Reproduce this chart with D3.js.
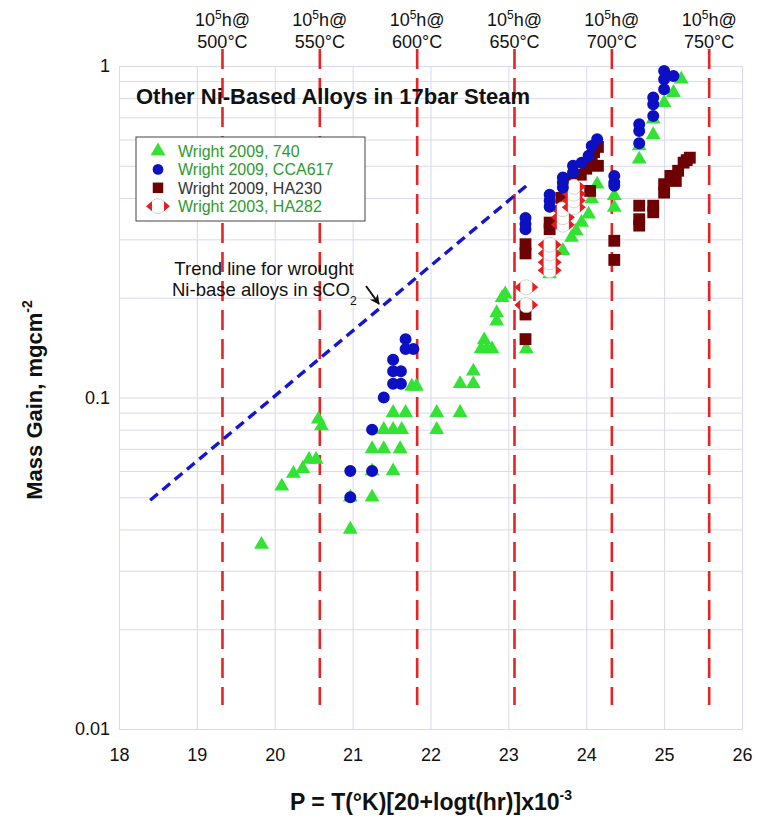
<!DOCTYPE html>
<html>
<head>
<meta charset="utf-8">
<script src="https://cdn.jsdelivr.net/npm/d3@7"></script>
<style>
  body { margin: 0; background: #fff; }
  svg text { font-family: "Liberation Sans", Arial, Helvetica, sans-serif; fill: #111; }
</style>
</head>
<body>
<svg id="chart" width="758" height="822"></svg>
<script>
// Values: [P, mass gain in mg/cm2]
const wright740 = [
  [19.83, 0.036], [20.09, 0.054], [20.24, 0.059], [20.36, 0.061], [20.44, 0.065],
  [20.53, 0.065], [20.56, 0.086], [20.60, 0.082], [20.97, 0.040], [20.97, 0.050],
  [21.25, 0.050], [21.25, 0.060], [21.52, 0.060], [21.25, 0.070], [21.40, 0.070],
  [21.61, 0.070], [21.40, 0.080], [21.52, 0.080], [21.63, 0.080], [21.52, 0.090],
  [21.68, 0.090], [21.76, 0.108], [21.82, 0.108], [22.08, 0.090], [22.08, 0.080],
  [22.38, 0.090], [22.38, 0.110], [22.55, 0.110], [22.55, 0.120], [22.65, 0.140],
  [22.72, 0.140], [22.79, 0.140], [22.69, 0.149], [22.85, 0.170], [22.85, 0.180],
  [22.92, 0.200], [22.96, 0.205], [23.23, 0.140], [23.53, 0.236], [23.70, 0.277],
  [23.81, 0.304], [23.87, 0.318], [23.94, 0.337], [24.03, 0.357], [24.07, 0.397],
  [24.14, 0.440], [24.36, 0.406], [24.36, 0.374], [24.68, 0.523], [24.68, 0.574],
  [24.86, 0.620], [24.86, 0.691], [25.00, 0.775], [25.12, 0.831], [25.22, 0.912]
];
const wrightCCA617 = [
  [20.97, 0.050], [20.97, 0.060], [21.25, 0.060], [21.25, 0.080], [21.40, 0.100],
  [21.52, 0.110], [21.62, 0.110], [21.52, 0.120], [21.62, 0.120], [21.52, 0.130],
  [21.68, 0.140], [21.68, 0.150], [21.78, 0.140], [23.22, 0.322], [23.22, 0.334],
  [23.22, 0.348], [23.53, 0.376], [23.53, 0.392], [23.53, 0.409], [23.70, 0.430],
  [23.70, 0.445], [23.70, 0.461], [23.83, 0.477], [23.83, 0.500], [23.94, 0.511],
  [24.03, 0.536], [24.07, 0.574], [24.14, 0.601], [24.36, 0.435], [24.36, 0.445],
  [24.36, 0.466], [24.68, 0.585], [24.68, 0.637], [24.68, 0.667], [24.86, 0.707],
  [24.86, 0.767], [24.86, 0.803], [25.00, 0.851], [25.00, 0.912], [25.00, 0.966],
  [25.12, 0.933]
];
const wrightHA230 = [
  [23.22, 0.150], [23.22, 0.178], [23.22, 0.272], [23.22, 0.290], [23.53, 0.322],
  [23.53, 0.337], [23.68, 0.400], [23.83, 0.455], [23.93, 0.470], [24.00, 0.490],
  [24.05, 0.420], [24.07, 0.520], [24.10, 0.550], [24.15, 0.570], [24.15, 0.500],
  [24.36, 0.260], [24.36, 0.297], [24.68, 0.330], [24.68, 0.345], [24.68, 0.379],
  [24.86, 0.362], [24.86, 0.379], [25.00, 0.415], [25.00, 0.440], [25.08, 0.466],
  [25.15, 0.450], [25.18, 0.483], [25.25, 0.511], [25.29, 0.520], [25.33, 0.529]
];
const wrightHA282 = [
  [23.23, 0.190], [23.23, 0.215], [23.53, 0.242], [23.53, 0.256], [23.53, 0.272],
  [23.53, 0.289], [23.70, 0.332], [23.70, 0.350], [23.70, 0.370], [23.84, 0.375],
  [23.84, 0.393], [23.84, 0.412], [23.84, 0.432]
];
const trendLine = [[18.4, 0.049], [23.28, 0.445]];
const isoTemps = [500, 550, 600, 650, 700, 750];   // deg C, at 1e5 h
const xTicks = [18, 19, 20, 21, 22, 23, 24, 25, 26];
const yLabelTicks = [0.01, 0.1, 1];
const legendLabels = ["Wright 2009, 740", "Wright 2009, CCA617", "Wright 2009, HA230", "Wright 2003, HA282"];

const svg = d3.select('#chart');
const margin = {top: 66, right: 16, bottom: 93, left: 119};
const width = 758 - margin.left - margin.right;
const height = 822 - margin.top - margin.bottom;

const x = d3.scaleLinear().domain([18, 26]).range([0, width]);
const y = d3.scaleLog().domain([0.01, 1]).range([height, 0]);

const g = svg.append('g')
  .attr('transform', 'translate(' + margin.left + ',' + margin.top + ')');

const gridColor = '#d8d8f0';

// grid
g.append('g')
  .attr('transform', 'translate(0,' + height + ')')
  .call(d3.axisBottom(x).tickValues(xTicks).tickSize(-height).tickFormat(''))
  .call(s => s.selectAll('line, path').attr('stroke', gridColor));
g.append('g')
  .call(d3.axisLeft(y).tickValues(y.ticks()).tickSize(-width).tickFormat(''))
  .call(s => s.selectAll('line, path').attr('stroke', gridColor));

// tick labels
g.append('g')
  .attr('transform', 'translate(0,' + height + ')')
  .call(d3.axisBottom(x).tickValues(xTicks).tickSize(0).tickPadding(19).tickFormat(d3.format('d')))
  .call(s => s.select('.domain').remove())
  .call(s => s.selectAll('text').attr('font-size', 18).attr('fill', '#111'));
g.append('g')
  .call(d3.axisLeft(y).tickValues(yLabelTicks).tickSize(0).tickPadding(9).tickFormat(d => String(d)))
  .call(s => s.select('.domain').remove())
  .call(s => s.selectAll('text').attr('font-size', 18).attr('fill', '#111'));

// isotherm lines: P = T(K) * (20 + log 1e5) / 1000
const isoP = isoTemps.map(t => (t + 273.15) * 25 / 1000);
const iso = g.selectAll('.iso').data(isoTemps).enter().append('g').attr('class', 'iso');
iso.append('line')
  .attr('x1', (d, i) => x(isoP[i])).attr('x2', (d, i) => x(isoP[i]))
  .attr('y1', -17).attr('y2', height - 24)
  .attr('stroke', '#e62424').attr('stroke-width', 2.6)
  .attr('stroke-dasharray', '20,9');
const isoLabel = iso.append('text')
  .attr('text-anchor', 'middle')
  .attr('font-size', 18);
isoLabel.append('tspan')
  .attr('x', (d, i) => x(isoP[i])).attr('y', -40)
  .text('10');
isoLabel.append('tspan')
  .attr('font-size', 12).attr('dy', -7)
  .text('5');
isoLabel.append('tspan')
  .attr('dy', 7)
  .text('h@');
iso.append('text')
  .attr('text-anchor', 'middle').attr('font-size', 18)
  .attr('x', (d, i) => x(isoP[i])).attr('y', -18)
  .text(d => d + '°C');

// trend line
g.append('path')
  .datum(trendLine)
  .attr('d', d3.line().x(d => x(d[0])).y(d => y(d[1])))
  .attr('fill', 'none').attr('stroke', '#1717c9').attr('stroke-width', 3.4)
  .attr('stroke-dasharray', '10,6');

// markers
const triangle = d3.symbol().type(d3.symbolTriangle).size(95);
const circle = d3.symbol().type(d3.symbolCircle).size(113);
const square = d3.symbol().type(d3.symbolSquare).size(140);

function drawHA282(sel) {
  sel.append('circle').attr('r', 7.5).attr('fill', '#fff').attr('stroke', '#c8c8c8').attr('stroke-width', 0.8);
  sel.append('path').attr('d', 'M-6,-5L-12,0L-6,5Z').attr('fill', '#e61e1e');
  sel.append('path').attr('d', 'M6,-5L12,0L6,5Z').attr('fill', '#e61e1e');
}

g.append('g').selectAll('path').data(wright740).enter().append('path')
  .attr('d', triangle).attr('fill', '#33e333')
  .attr('transform', d => 'translate(' + x(d[0]) + ',' + y(d[1]) + ')');
g.append('g').selectAll('path').data(wrightHA230).enter().append('path')
  .attr('d', square).attr('fill', '#6e0202')
  .attr('transform', d => 'translate(' + x(d[0]) + ',' + y(d[1]) + ')');
g.append('g').selectAll('g').data(wrightHA282).enter().append('g')
  .attr('transform', d => 'translate(' + x(d[0]) + ',' + y(d[1]) + ')')
  .call(drawHA282);
g.append('g').selectAll('path').data(wrightCCA617).enter().append('path')
  .attr('d', circle).attr('fill', '#0c10c2')
  .attr('transform', d => 'translate(' + x(d[0]) + ',' + y(d[1]) + ')');

// title
svg.append('text')
  .attr('x', 136).attr('y', 104)
  .attr('font-size', 22).attr('font-weight', 'bold')
  .text('Other Ni-Based Alloys in 17bar Steam');

// legend
const legend = svg.append('g').attr('transform', 'translate(136,137)');
legend.append('rect')
  .attr('width', 229).attr('height', 84)
  .attr('fill', '#fff').attr('stroke', '#444').attr('stroke-width', 1);
const legendText = ['#2f9a2f', '#2f9a2f', '#333', '#2f9a2f'];
const rows = legend.selectAll('.row').data(legendLabels).enter().append('g')
  .attr('transform', (d, i) => 'translate(0,' + (14 + i * 18.4) + ')');
rows.append('text')
  .attr('x', 42).attr('y', 6)
  .attr('font-size', 16)
  .style('fill', (d, i) => legendText[i])
  .text(d => d);
rows.filter((d, i) => i === 0).append('path').attr('d', triangle).attr('fill', '#33e333').attr('transform', 'translate(22,0)');
rows.filter((d, i) => i === 1).append('path').attr('d', d3.symbol().type(d3.symbolCircle).size(90)).attr('fill', '#0c10c2').attr('transform', 'translate(22,0)');
rows.filter((d, i) => i === 2).append('path').attr('d', d3.symbol().type(d3.symbolSquare).size(110)).attr('fill', '#6e0202').attr('transform', 'translate(22,0)');
rows.filter((d, i) => i === 3).append('g').attr('transform', 'translate(22,0)').call(drawHA282);

// trend line note
const note = svg.append('g');
note.append('text').attr('x', 264).attr('y', 275).attr('text-anchor', 'middle').attr('font-size', 18.5)
  .text('Trend line for wrought');
const note2 = note.append('text').attr('x', 172).attr('y', 296).attr('font-size', 18.5);
note2.append('tspan').text('Ni-base alloys in sCO');
note2.append('tspan').attr('font-size', 12).attr('dx', 0).attr('dy', 9).text('2');
svg.append('defs').append('marker')
  .attr('id', 'arrow').attr('viewBox', '0 0 10 10').attr('refX', 9).attr('refY', 5)
  .attr('markerWidth', 5).attr('markerHeight', 5).attr('orient', 'auto')
  .append('path').attr('d', 'M0,0L10,5L0,10L3,5Z').attr('fill', '#111');
note.append('line')
  .attr('x1', 366).attr('y1', 286).attr('x2', 379).attr('y2', 304)
  .attr('stroke', '#111').attr('stroke-width', 2).attr('marker-end', 'url(#arrow)');

// axis titles
const yTitle = svg.append('text')
  .attr('transform', 'translate(42,400) rotate(-90)')
  .attr('text-anchor', 'middle').attr('font-size', 22).attr('font-weight', 'bold');
yTitle.append('tspan').text('Mass Gain, mgcm');
yTitle.append('tspan').attr('font-size', 14).attr('dy', -10).text('-2');

const xTitle = svg.append('text')
  .attr('x', 431).attr('y', 810)
  .attr('text-anchor', 'middle').attr('font-size', 23).attr('font-weight', 'bold');
xTitle.append('tspan').text('P = T(°K)[20+logt(hr)]x10');
xTitle.append('tspan').attr('font-size', 14).attr('dy', -10).text('-3');
</script>
</body>
</html>
